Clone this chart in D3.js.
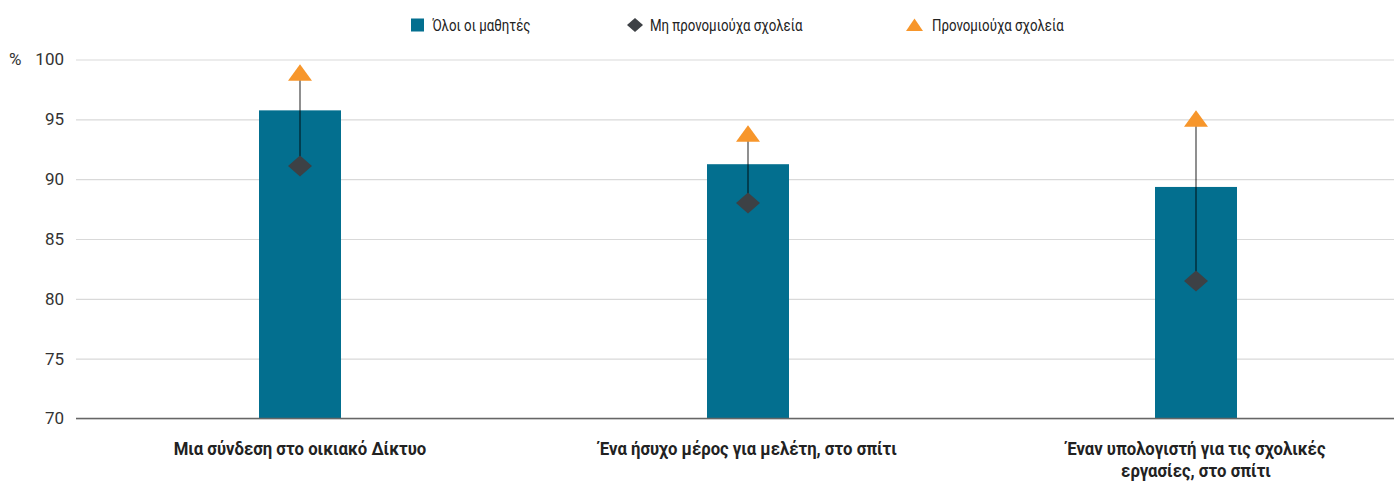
<!DOCTYPE html>
<html>
<head>
<meta charset="utf-8">
<script src="https://cdn.jsdelivr.net/npm/d3@7"></script>
<style>
  body { margin: 0; background: #fff; }
  svg text { font-family: "Roboto", sans-serif; }
</style>
</head>
<body>
<svg id="chart" width="1394" height="482"></svg>
<script>
var categories = [
  ["Μια σύνδεση στο οικιακό Δίκτυο"],
  ["Ένα ήσυχο μέρος για μελέτη, στο σπίτι"],
  ["Έναν υπολογιστή για τις σχολικές", "εργασίες, στο σπίτι"]
];
var allStudents = [95.75, 91.25, 89.35];
var disadvantaged = [91.1, 88.0, 81.5];
var advantaged = [98.9, 93.8, 95.05];
var yTicks = [70, 75, 80, 85, 90, 95, 100];
var legendLabels = ["Όλοι οι μαθητές", "Μη προνομιούχα σχολεία", "Προνομιούχα σχολεία"];

var colors = { bar: "#036f8f", dis: "#3d4145", adv: "#f7962b" };

var svg = d3.select("#chart");
var plotLeft = 76, plotTop = 59.5, plotBottom = 418.5;

var x = d3.scaleBand()
  .domain(d3.range(categories.length))
  .range([plotLeft, plotLeft + 448 * 3]);

var y = d3.scaleLinear().domain([70, 100]).range([plotBottom, plotTop]);

function cx(i) { return x(i) + x.bandwidth() / 2; }

// gridlines + tick labels
var yAxis = svg.append("g")
  .attr("transform", "translate(" + plotLeft + ",0)")
  .call(d3.axisLeft(y).tickValues(yTicks).tickSize(-(1394 - plotLeft)).tickPadding(12));
yAxis.select(".domain").remove();
yAxis.selectAll(".tick line").attr("stroke", "#d9d9d9").attr("stroke-width", 1.2);
yAxis.selectAll(".tick text")
  .style("font-size", "17px")
  .attr("fill", "#333");

svg.append("text")
  .attr("x", 9).attr("y", plotTop + 5)
  .style("font-size", "17px")
  .attr("fill", "#333")
  .text("%");

var bw = 82;

// bars
svg.selectAll("rect.bar")
  .data(allStudents)
  .enter()
  .append("rect")
  .attr("class", "bar")
  .attr("x", function (d, i) { return cx(i) - bw / 2; })
  .attr("y", function (d) { return y(d); })
  .attr("width", bw)
  .attr("height", function (d) { return plotBottom - y(d); })
  .attr("fill", colors.bar);

// baseline
svg.append("line")
  .attr("x1", plotLeft).attr("x2", 1394)
  .attr("y1", plotBottom).attr("y2", plotBottom)
  .attr("stroke", "#666").attr("stroke-width", 1.3);

// connecting lines
svg.selectAll("line.range")
  .data(d3.range(categories.length))
  .enter()
  .append("line")
  .attr("class", "range")
  .attr("x1", cx)
  .attr("x2", cx)
  .attr("y1", function (i) { return y(advantaged[i]); })
  .attr("y2", function (i) { return y(disadvantaged[i]); })
  .attr("stroke", "#000")
  .attr("stroke-opacity", 0.55)
  .attr("stroke-width", 1.6);

var diamondPath = "M0,-10.5L12,0L0,10.5L-12,0Z";
var trianglePath = "M0,-8.5L12,8L-12,8Z";

svg.selectAll("path.dis")
  .data(disadvantaged)
  .enter()
  .append("path")
  .attr("class", "dis")
  .attr("d", diamondPath)
  .attr("transform", function (d, i) { return "translate(" + cx(i) + "," + y(d) + ")"; })
  .attr("fill", colors.dis);

svg.selectAll("path.adv")
  .data(advantaged)
  .enter()
  .append("path")
  .attr("class", "adv")
  .attr("d", trianglePath)
  .attr("transform", function (d, i) { return "translate(" + cx(i) + "," + y(d) + ")"; })
  .attr("fill", colors.adv);

// category labels (condensed by horizontal scale)
svg.selectAll("g.cat")
  .data(categories)
  .enter()
  .append("g")
  .attr("class", "cat")
  .attr("transform", function (d, i) { return "translate(" + cx(i) + ",455) scale(0.88,1)"; })
  .each(function (d) {
    var g = d3.select(this);
    d.forEach(function (line, j) {
      g.append("text")
        .attr("x", 0)
        .attr("y", j * 22)
        .attr("text-anchor", "middle")
        .style("font-size", "19px")
        .style("font-weight", "bold")
        .attr("fill", "#222")
        .text(line);
    });
  });

// legend
var markerX = [417.5, 635, 914.5];
var legend = svg.append("g").attr("class", "legend");
legend.selectAll("g")
  .data(legendLabels)
  .enter()
  .append("g")
  .attr("transform", function (d, i) { return "translate(" + markerX[i] + ",25)"; })
  .each(function (d, i) {
    var g = d3.select(this);
    if (i === 0) {
      g.append("rect").attr("x", -6.5).attr("y", -6.5).attr("width", 13).attr("height", 13).attr("fill", colors.bar);
    } else if (i === 1) {
      g.append("path").attr("d", "M0,-7L8,0L0,7L-8,0Z").attr("fill", colors.dis);
    } else {
      g.append("path").attr("d", "M0,-6.5L8.5,6L-8.5,6Z").attr("fill", colors.adv);
    }
    g.append("g")
      .attr("transform", "translate(" + (i === 2 ? 17.5 : 15) + ",6) scale(0.78,1)")
      .append("text")
      .style("font-size", "17px")
      .attr("fill", "#222")
      .text(d);
  });
</script>
</body>
</html>
